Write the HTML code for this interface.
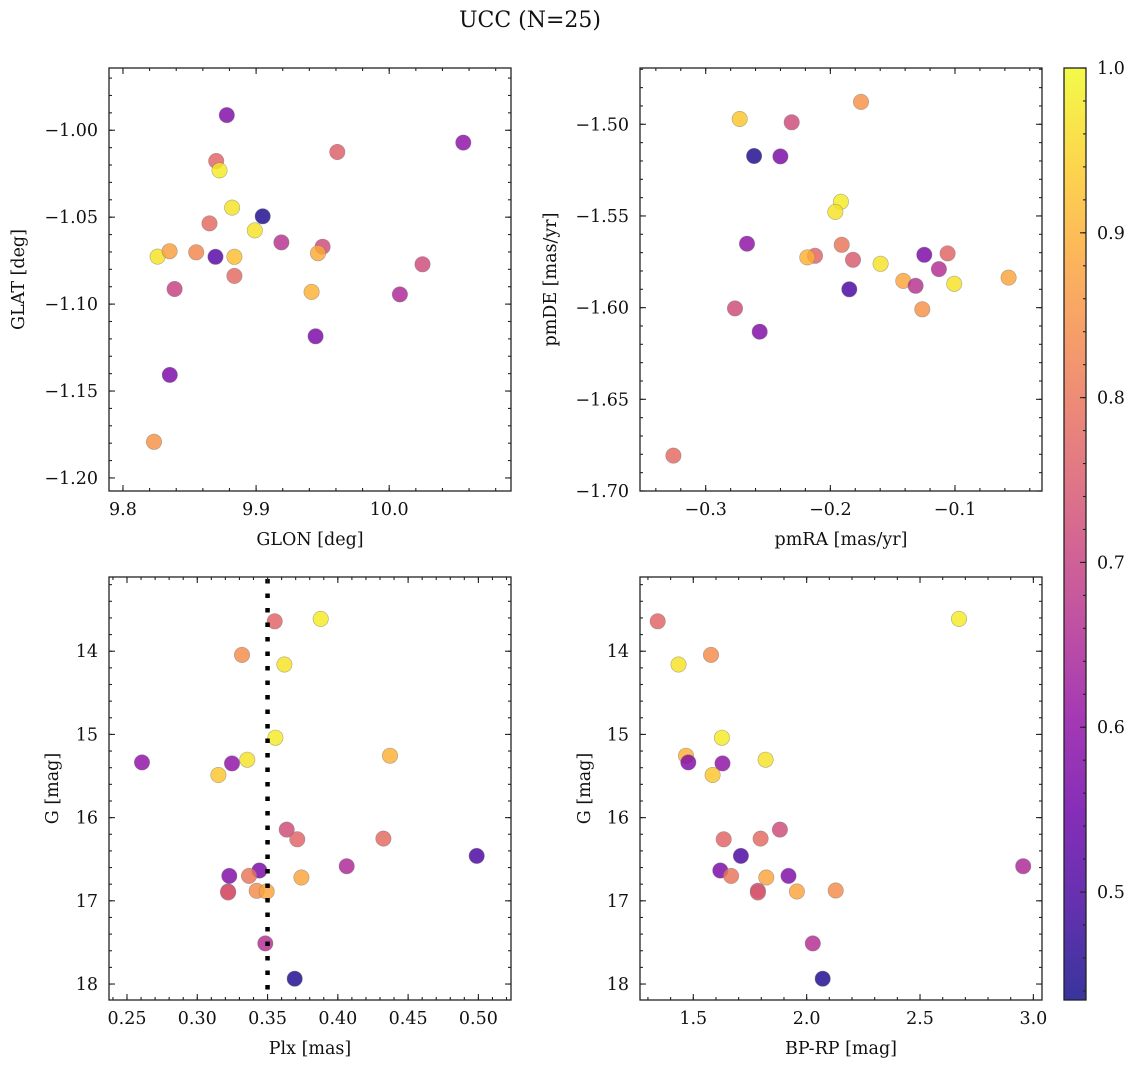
<!DOCTYPE html>
<html><head><meta charset="utf-8">
<style>
html,body{margin:0;padding:0;background:#fff;}
svg{display:block;font-family:"DejaVu Serif","Liberation Serif",serif;}
</style></head>
<body>
<svg id="fig" width="1136" height="1067" viewBox="0 0 1136 1067" xmlns="http://www.w3.org/2000/svg">
<text x="530" y="27" font-size="22" text-anchor="middle" fill="#111">UCC (N=25)</text>
</svg>
<script>
// ---- data ----
const glon = [9.878,10.0557,9.961,9.870,9.8725,9.882,9.905,9.865,9.899,9.919,9.950,9.826,9.835,9.855,9.8695,9.8837,9.9465,10.025,9.8837,9.8388,9.9417,10.008,9.9447,9.8352,9.8233];
const glat = [-0.9913,-1.0071,-1.0125,-1.0177,-1.0231,-1.0445,-1.0495,-1.0536,-1.0576,-1.0645,-1.067,-1.0727,-1.0696,-1.0702,-1.0728,-1.0728,-1.0707,-1.0771,-1.0838,-1.0913,-1.093,-1.0944,-1.1185,-1.1407,-1.1792];
const probTL = [0.58,0.6,0.76,0.77,0.98,0.97,0.45,0.78,0.97,0.67,0.72,0.97,0.87,0.83,0.52,0.92,0.89,0.72,0.78,0.7,0.9,0.65,0.57,0.57,0.85];

const pmra = [-0.1754,-0.2727,-0.2310,-0.2612,-0.2401,-0.1915,-0.1960,-0.2669,-0.1909,-0.2123,-0.2185,-0.1818,-0.1597,-0.1246,-0.1059,-0.1129,-0.1415,-0.1316,-0.1006,-0.0570,-0.1848,-0.1262,-0.2765,-0.2567,-0.3259];
const pmde = [-1.4878,-1.4971,-1.4989,-1.5173,-1.5175,-1.5423,-1.5478,-1.5651,-1.5657,-1.5717,-1.5726,-1.5739,-1.5761,-1.5712,-1.5704,-1.5790,-1.5854,-1.5881,-1.5870,-1.5836,-1.5900,-1.6009,-1.6004,-1.6131,-1.6807];
const probTR = [0.85,0.93,0.72,0.45,0.57,0.98,0.97,0.6,0.8,0.77,0.9,0.75,0.97,0.57,0.77,0.66,0.88,0.67,0.97,0.88,0.5,0.85,0.72,0.58,0.78];

const plx = [0.3878,0.3551,0.3318,0.3620,0.3556,0.4371,0.2607,0.3247,0.3356,0.3150,0.3636,0.3712,0.4324,0.4988,0.4063,0.3442,0.3228,0.3368,0.3741,0.3219,0.3219,0.3423,0.3494,0.3484,0.3693];
const gmagL = [13.612,13.64,14.044,14.16,15.04,15.256,15.336,15.348,15.304,15.488,16.144,16.26,16.252,16.46,16.584,16.636,16.70,16.70,16.72,16.888,16.90,16.88,16.888,17.512,17.936];
const probBL = [0.98,0.77,0.84,0.97,0.98,0.9,0.6,0.6,0.97,0.93,0.72,0.77,0.78,0.5,0.65,0.57,0.58,0.8,0.88,0.72,0.75,0.84,0.88,0.66,0.45];

const bprp = [1.343,2.672,1.578,1.435,1.626,1.468,1.478,1.629,1.819,1.585,1.882,1.634,1.797,1.710,1.619,1.667,1.822,1.920,1.785,1.957,2.128,2.955,2.027,2.071,1.785];
const gmagR = [13.64,13.612,14.044,14.16,15.04,15.256,15.336,15.348,15.304,15.488,16.144,16.26,16.252,16.46,16.636,16.70,16.72,16.70,16.88,16.888,16.876,16.584,17.512,17.936,16.90];
const probBR = [0.77,0.98,0.84,0.97,0.98,0.9,0.58,0.6,0.97,0.93,0.72,0.77,0.78,0.5,0.57,0.8,0.88,0.58,0.72,0.88,0.84,0.65,0.66,0.45,0.75];

const plxRef = [0.35];
const ticksGLON = [9.8,9.9,10.0];
const labelsGLON = ["9.8","9.9","10.0"];
const ticksGLAT = [-1.00,-1.05,-1.10,-1.15,-1.20];
const labelsGLAT = ["\u22121.00","\u22121.05","\u22121.10","\u22121.15","\u22121.20"];
const ticksPMRA = [-0.3,-0.2,-0.1];
const labelsPMRA = ["\u22120.3","\u22120.2","\u22120.1"];
const ticksPMDE = [-1.50,-1.55,-1.60,-1.65,-1.70];
const labelsPMDE = ["\u22121.50","\u22121.55","\u22121.60","\u22121.65","\u22121.70"];
const ticksPLX = [0.25,0.30,0.35,0.40,0.45,0.50];
const labelsPLX = ["0.25","0.30","0.35","0.40","0.45","0.50"];
const ticksG = [14,15,16,17,18];
const labelsG = ["14","15","16","17","18"];
const ticksBPRP = [1.5,2.0,2.5,3.0];
const labelsBPRP = ["1.5","2.0","2.5","3.0"];
const ticksCB = [0.5,0.6,0.7,0.8,0.9,1.0];
const labelsCB = ["0.5","0.6","0.7","0.8","0.9","1.0"];

// ---- colormap ----
const VMIN = 0.4345, VMAX = 1.0;
const plasma = [[13,8,135],[65,4,157],[106,0,168],[143,13,164],[177,42,144],[204,71,120],[225,100,98],[242,132,75],[252,166,54],[252,206,37],[240,249,33]];
function plasmaAt(t){
  t=Math.max(0,Math.min(1,t));
  const f=t*10, i=Math.min(9,Math.floor(f)), r=f-i;
  const a=plasma[i], b=plasma[i+1];
  return [0,1,2].map(k=>Math.round(a[k]+(b[k]-a[k])*r));
}
function rgb(c){return "rgb("+c[0]+","+c[1]+","+c[2]+")";}
function colorOf(v){return rgb(plasmaAt((v-VMIN)/(VMAX-VMIN)));}

const NS="http://www.w3.org/2000/svg";
const svg=document.getElementById('fig');
const TF=17.5;
function mk(tag,attrs,parent){
  const e=document.createElementNS(NS,tag);
  for(const k in attrs) e.setAttribute(k,attrs[k]);
  (parent||svg).appendChild(e);
  return e;
}

function panel(cfg){
  const {name,x0,y0,w,h,xmin,xmax,ytop,ybot} = cfg;
  const sx = v => x0 + (v-xmin)/(xmax-xmin)*w;
  const sy = v => y0 + (v-ytop)/(ybot-ytop)*h;
  const g=mk('g',{});
  
  
  const pts=mk('g',{},g);
  
  
  for(let i=0;i<cfg.xs.length;i++){
    const c=mk('circle',{cx:sx(cfg.xs[i]).toFixed(1),cy:sy(cfg.ys[i]).toFixed(1),r:7.7,fill:colorOf(cfg.cs[i]),'fill-opacity':0.82,stroke:'#777','stroke-opacity':0.6,'stroke-width':0.6},pts);
    
    
  }
  if(cfg.vline){
    for(const v of cfg.vline){
      const l=mk('line',{x1:sx(v),x2:sx(v),y1:y0+2,y2:y0+h,stroke:'#000','stroke-width':4.5,'stroke-dasharray':'4.5,10'},g);
      
      
    }
  }
  const fr=mk('rect',{x:x0,y:y0,width:w,height:h,fill:'none',stroke:'#222','stroke-width':1.3},g);
  
  
  const tk=mk('g',{stroke:'#222','stroke-width':1.1},g);
  
  
  const lo=Math.min(xmin,xmax), hi=Math.max(xmin,xmax);
  for(let k=Math.ceil(lo/cfg.xminor-1e-6);k<=Math.floor(hi/cfg.xminor+1e-6);k++){
    const X=sx(k*cfg.xminor);
    mk('line',{x1:X,x2:X,y1:y0+h,y2:y0+h-3},tk); mk('line',{x1:X,x2:X,y1:y0,y2:y0+3},tk);
  }
  const ylo=Math.min(ytop,ybot), yhi=Math.max(ytop,ybot);
  for(let k=Math.ceil(ylo/cfg.yminor-1e-6);k<=Math.floor(yhi/cfg.yminor+1e-6);k++){
    const Y=sy(k*cfg.yminor);
    mk('line',{x1:x0,x2:x0+3,y1:Y,y2:Y},tk); mk('line',{x1:x0+w,x2:x0+w-3,y1:Y,y2:Y},tk);
  }
  cfg.xt.forEach((v,i)=>{
    const X=sx(v);
    mk('line',{x1:X,x2:X,y1:y0+h,y2:y0+h-6},tk); mk('line',{x1:X,x2:X,y1:y0,y2:y0+6},tk);
    const t=mk('text',{x:X,y:y0+h+24,'font-size':TF,'text-anchor':'middle',fill:'#111'},g);
    t.textContent=cfg.xl[i];
    
    
  });
  cfg.yt.forEach((v,i)=>{
    const Y=sy(v);
    mk('line',{x1:x0,x2:x0+6,y1:Y,y2:Y},tk); mk('line',{x1:x0+w,x2:x0+w-6,y1:Y,y2:Y},tk);
    const t=mk('text',{x:x0-11,y:Y+6,'font-size':TF,'text-anchor':'end',fill:'#111'},g);
    t.textContent=cfg.yl[i];
    
    
  });
  const xt=mk('text',{x:x0+w/2,y:y0+h+54,'font-size':17.5,'text-anchor':'middle',fill:'#111'},g);
  xt.textContent=cfg.xlabel;
  
  
  const yx=cfg.ylabelX, yy=y0+h/2;
  const yt=mk('text',{x:yx,y:yy,'font-size':17.5,'text-anchor':'middle',fill:'#111',transform:'rotate(-90 '+yx+' '+yy+')'},g);
  yt.textContent=cfg.ylabel;
  
  
}

panel({name:'glon-glat',x0:109,y0:68,w:402,h:423,xmin:9.7895,xmax:10.0915,ytop:-0.9642,ybot:-1.2075,
  xs:glon,ys:glat,cs:probTL,xt:ticksGLON,xl:labelsGLON,yt:ticksGLAT,yl:labelsGLAT,xminor:0.02,yminor:0.01,
  xlabel:'GLON [deg]',ylabel:'GLAT [deg]',ylabelX:24});
panel({name:'pmra-pmde',x0:640,y0:68,w:402,h:423,xmin:-0.3527,xmax:-0.0302,ytop:-1.4693,ybot:-1.70,
  xs:pmra,ys:pmde,cs:probTR,xt:ticksPMRA,xl:labelsPMRA,yt:ticksPMDE,yl:labelsPMDE,xminor:0.02,yminor:0.01,
  xlabel:'pmRA [mas/yr]',ylabel:'pmDE [mas/yr]',ylabelX:556});
panel({name:'plx-g',x0:109,y0:577,w:402,h:423,xmin:0.2372,xmax:0.5232,ytop:13.108,ybot:18.192,
  xs:plx,ys:gmagL,cs:probBL,xt:ticksPLX,xl:labelsPLX,yt:ticksG,yl:labelsG,xminor:0.01,yminor:0.2,
  xlabel:'Plx [mas]',ylabel:'G [mag]',ylabelX:58,vline:plxRef});
panel({name:'bprp-g',x0:640,y0:577,w:402,h:423,xmin:1.265,xmax:3.038,ytop:13.108,ybot:18.192,
  xs:bprp,ys:gmagR,cs:probBR,xt:ticksBPRP,xl:labelsBPRP,yt:ticksG,yl:labelsG,xminor:0.1,yminor:0.2,
  xlabel:'BP-RP [mag]',ylabel:'G [mag]',ylabelX:590});

// ---- colorbar ----
(function(){
  const cx=1064, cy=68, cw=22, ch=932;
  const sy = v => cy + ch - (v-VMIN)/(VMAX-VMIN)*ch;
  const defs=mk('defs',{});
  const lg=mk('linearGradient',{id:'cbgrad',x1:0,y1:1,x2:0,y2:0},defs);
  for(let i=0;i<=20;i++){
    mk('stop',{offset:(i/20),'stop-color':rgb(plasmaAt(i/20)),'stop-opacity':0.82},lg);
  }
  const g=mk('g',{});
  
  
  mk('rect',{x:cx,y:cy,width:cw,height:ch,fill:'url(#cbgrad)',stroke:'#222','stroke-width':1.3},g);
  const tk=mk('g',{stroke:'#222','stroke-width':1.1},g);
  for(let k=Math.ceil(VMIN/0.02-1e-6);k<=Math.floor(VMAX/0.02+1e-6);k++){
    const Y=sy(k*0.02);
    mk('line',{x1:cx+cw,x2:cx+cw-3,y1:Y,y2:Y},tk);
  }
  ticksCB.forEach((v,i)=>{
    const Y=sy(v);
    mk('line',{x1:cx+cw,x2:cx+cw-6,y1:Y,y2:Y},tk);
    const t=mk('text',{x:cx+cw+11,y:Y+6,'font-size':TF,fill:'#111'},g);
    t.textContent=labelsCB[i];
    
    
  });
})();
</script>
</body></html>
